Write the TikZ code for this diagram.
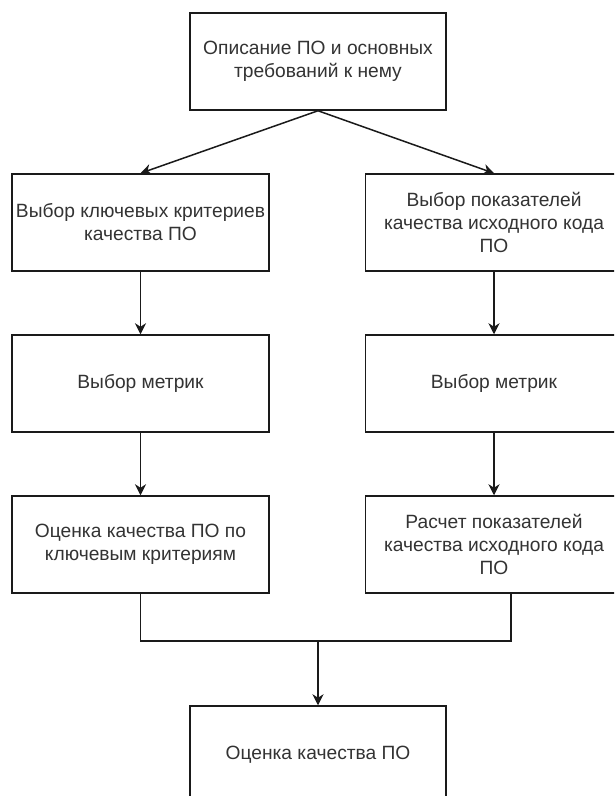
\documentclass[tikz,border=0pt]{standalone}
\usepackage{fontspec}
\setmainfont{Liberation Sans}
\usetikzlibrary{arrows.meta,calc}
\definecolor{linec}{HTML}{1A1A1A}
\definecolor{textc}{HTML}{333333}
\tikzset{
  box/.style={draw=linec, line width=1.5pt, rectangle, minimum width=257pt, minimum height=97pt,
    inner sep=0pt, align=center, text=textc, font=\fontsize{19.2}{23}\selectfont},
  conn/.style={draw=linec, line width=1.5pt},
  arr/.style={conn, -{Stealth[length=11pt,width=11pt,inset=3.5pt]}}
}
\begin{document}
\begin{tikzpicture}[x=1pt,y=1pt]
\useasboundingbox (0,0) rectangle (614,-796);
\fill[white] (0,0) rectangle (614,-796);
\clip (0,0) rectangle (614,-796);
\node[box, minimum width=256pt] (top) at (318,-61.5) {Описание ПО и основных\\требований к нему};
\node[box] (l1) at (140.5,-222.5) {Выбор ключевых критериев\\качества ПО};
\node[box] (r1) at (494,-222.5) {Выбор показателей\\качества исходного кода\\ПО};
\node[box] (l2) at (140.5,-383.5) {Выбор метрик};
\node[box] (r2) at (494,-383.5) {Выбор метрик};
\node[box] (l3) at (140.5,-544.5) {Оценка качества ПО по\\ключевым критериям};
\node[box] (r3) at (494,-544.5) {Расчет показателей\\качества исходного кода\\ПО};
\node[box, minimum width=256pt] (bot) at (318,-754.5) {Оценка качества ПО};
\draw[arr] (top.south) -- (l1.north);
\draw[arr] (top.south) -- (r1.north);
\draw[arr] (l1.south) -- (l2.north);
\draw[arr] (r1.south) -- (r2.north);
\draw[arr] (l2.south) -- (l3.north);
\draw[arr] (r2.south) -- (r3.north);
\coordinate (j) at (318,-641);
\coordinate (rj) at ([xshift=17pt]r3.south);
\draw[conn] (l3.south) |- (j);
\draw[conn] (rj) |- (j);
\draw[arr] (j) -- (bot.north);
\end{tikzpicture}
\end{document}
